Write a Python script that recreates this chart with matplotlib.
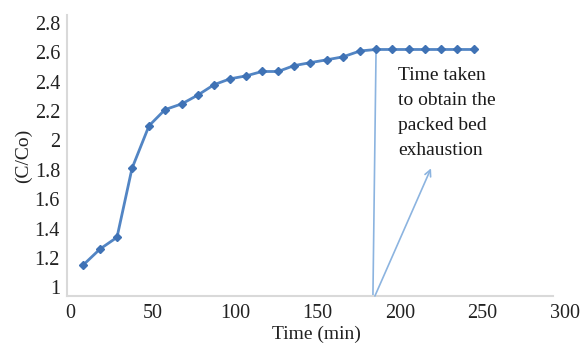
import matplotlib.pyplot as plt

# Breakthrough curve of the packed bed
time_min = [7.9, 18.2, 28.5, 37.6, 47.9, 57.6, 67.9, 77.6, 87.3, 97.0,
            106.7, 116.4, 126.1, 135.8, 145.5, 155.8, 165.5, 175.8, 185.5,
            195.2, 205.5, 215.2, 224.8, 234.5, 244.8]
c_over_c0 = [1.15, 1.26, 1.34, 1.81, 2.10, 2.21, 2.25, 2.31, 2.38, 2.42,
             2.44, 2.47, 2.47, 2.51, 2.53, 2.55, 2.57, 2.61, 2.62,
             2.62, 2.62, 2.62, 2.62, 2.62, 2.62]

x_ticks = [0, 50, 100, 150, 200, 250, 300]
y_ticks = [1, 1.2, 1.4, 1.6, 1.8, 2, 2.2, 2.4, 2.6, 2.8]
y_tick_labels = ["1", "1.2", "1.4", "1.6", "1.8", "2", "2.2", "2.4", "2.6", "2.8"]

# exhaustion marker and its callout
exhaust_line_x = [183.6, 185.5]
exhaust_line_y = [0.94, 2.62]
arrow_tail = (184.8, 0.94)
arrow_head = (218.8, 1.81)
note = "Time taken\nto obtain the\npacked bed\nexhaustion"

plt.rcParams["font.family"] = ["Liberation Serif", "DejaVu Serif"]

fig = plt.figure(figsize=(5.82, 3.43), dpi=100)
ax = fig.add_axes([67 / 582, 1 - 296 / 343, (565 - 67) / 582, (296 - 15) / 343])

line_color = "#5285c4"
ax.plot(time_min, c_over_c0, color=line_color, lw=2.0, marker="D",
        ms=3.8, mfc="#3f72b5", mec="#3f72b5", zorder=3)

note_color = "#8cb4e0"
ax.plot(exhaust_line_x, exhaust_line_y, color=note_color, lw=1.2, zorder=2)
ax.annotate("", xy=arrow_head, xytext=arrow_tail,
            arrowprops=dict(arrowstyle="->", color=note_color, lw=1.2,
                            shrinkA=0, shrinkB=0, mutation_scale=11))
ax.text(198.8, 2.50, note, fontsize=14, va="top", ha="left",
        linespacing=1.62, color="#1a1a1a")

ax.set_xlim(-1.8, 300)
ax.set_ylim(0.94, 2.855)
ax.set_xticks(x_ticks)
ax.set_yticks(y_ticks)
ax.set_yticklabels(y_tick_labels)
ax.tick_params(length=0, labelsize=14.5, colors="#222222", pad=5)
ax.tick_params(axis="x", pad=6)

for side in ("top", "right"):
    ax.spines[side].set_visible(False)
for side in ("left", "bottom"):
    ax.spines[side].set_color("#d9d9d9")
    ax.spines[side].set_linewidth(1.5)
ax.spines["bottom"].set_bounds(-1.8, 292.7)

ax.set_xlabel("Time (min)", fontsize=14, labelpad=2, color="#222222")
ax.set_ylabel("(C/Co)", fontsize=14, labelpad=2, color="#222222")

fig.savefig("out.png", dpi=100)
